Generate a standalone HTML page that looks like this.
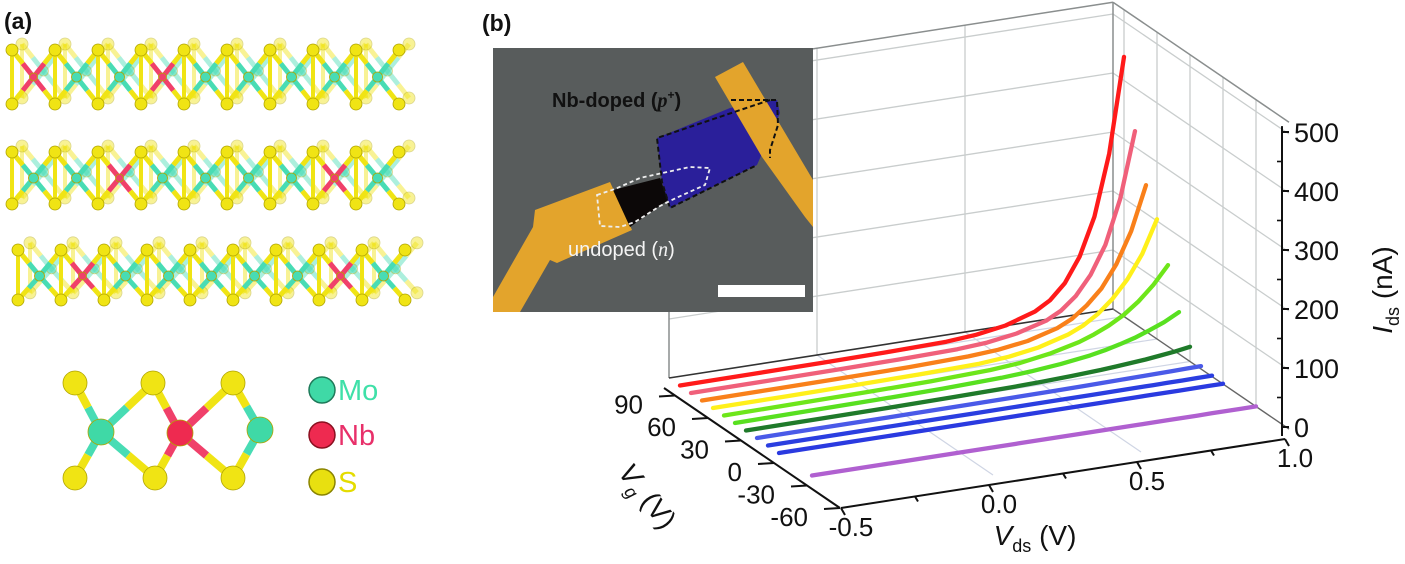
<!DOCTYPE html>
<html><head><meta charset="utf-8">
<style>
html,body{margin:0;padding:0;background:#fff;}
svg{display:block;font-family:"Liberation Sans",sans-serif;}
</style></head>
<body>
<svg id="fig" width="1405" height="564" viewBox="0 0 1405 564" xmlns="http://www.w3.org/2000/svg">
<rect width="1405" height="564" fill="#fff"/>
<g id="panelA"></g>
<text x="4" y="29" font-size="23" font-weight="bold" fill="#111">(a)</text>
<g id="mol"></g>
<g>
 <circle cx="322" cy="390" r="13" fill="#3fd9a6" stroke="#1f7a5a" stroke-width="1.5"/>
 <text x="338" y="400" font-size="29" fill="#3fe0a8">Mo</text>
 <circle cx="322" cy="435" r="13" fill="#ee2a50" stroke="#8a1020" stroke-width="1.5"/>
 <text x="338" y="445" font-size="29" fill="#e8306a">Nb</text>
 <circle cx="322" cy="482" r="13" fill="#e8e010" stroke="#8a8400" stroke-width="1.5"/>
 <text x="338" y="492" font-size="29" fill="#e4dc00">S</text>
</g>
<text x="482" y="31" font-size="23" font-weight="bold" fill="#111">(b)</text>
<g id="grid"></g>
<g id="curves"></g>
<g id="inset">
 <rect x="493" y="48" width="320" height="264" fill="#585c5c"/>
 <polygon points="657,138 730,108 777,100 780,113 757,165 670,208 662,182" fill="#2a1f9a"/>
 <polygon points="493,297 533,227 535,210 610,182 632,230 557,263 550,260 520,312 493,312" fill="#e3a42c"/>
 <polygon points="715,77 743,62 813,180 813,227 805,217 762,157" fill="#e3a42c"/>
 <polygon points="613,190 660,178 668,200 630,227" fill="#0c0808"/>
 <polyline points="770,100 657,138 662,182 670,208 757,165" fill="none" stroke="#111" stroke-width="2" stroke-dasharray="5,3"/>
 <polyline points="731,100 777,100 778,125 770,150 770,158" fill="none" stroke="#111" stroke-width="2" stroke-dasharray="5,3"/>
 <polygon points="597,195 615,189 640,178 690,167 710,168 705,185 676,198 660,206 635,222 620,227 600,226" fill="none" stroke="#eee" stroke-width="1.8" stroke-dasharray="4,3"/>
 <text x="552" y="107" font-size="20" font-weight="bold" fill="#111">Nb-doped (<tspan font-style="italic" font-family="Liberation Serif">p</tspan><tspan font-size="12" dy="-8">+</tspan><tspan dy="8">)</tspan></text>
 <text x="568" y="256" font-size="20" fill="#f4f4f4">undoped (<tspan font-style="italic" font-family="Liberation Serif">n</tspan>)</text>
 <rect x="718" y="285" width="87" height="12" fill="#fff"/>
</g>
<g id="axes"></g>
<text x="0" y="0" font-size="28" fill="#111" transform="translate(640,502) rotate(52)" text-anchor="middle"><tspan font-style="italic">V</tspan><tspan font-size="18" dy="7" font-style="italic">g</tspan><tspan dy="-7"> (V)</tspan></text>
<text x="1035" y="545" font-size="28" fill="#111" text-anchor="middle"><tspan font-style="italic">V</tspan><tspan font-size="18" dy="7">ds</tspan><tspan dy="-7"> (V)</tspan></text>
<text x="0" y="0" font-size="28" fill="#111" transform="translate(1392,290) rotate(-90)" text-anchor="middle"><tspan font-style="italic">I</tspan><tspan font-size="18" dy="7">ds</tspan><tspan dy="-7"> (nA)</tspan></text>
</svg>
<script>
// ---- chart data ----
const vdsPoints = [-0.5,-0.25,0,0.2,0.4,0.5,0.6,0.7,0.75,0.8,0.85,0.9,0.95,1.0];
const vgValues = [90,80,70,60,50,40,30,20,10,0,-30];
const seriesColors = ['#ff1a1a','#f0607a','#f9801a','#fff01a','#6ee61a','#58e020','#1f7a2a','#4a5ae8','#2a3ee0','#2a3ae0','#b060d0'];
const idsVg90 = [0,0.5,1,2,4,8,16,32,47,72,113,177,280,440];
const idsVg80 = [0,0.5,1,2,4,7.5,15,29,42,63,95,142,216,327];
const idsVg70 = [0,0.5,1,2,4.5,8,15,29,41,60,85,122,174,248];
const idsVg60 = [0,0.5,1.5,2.5,5,9,17,31,42,58,80,109,148,203];
const idsVg50 = [0,1,2,3.5,7,11,19,31,40,51,65,84,108,138];
const idsVg40 = [0,1,2,3.5,6.5,9.5,14,21,26,32,39,48,58,71];
const idsVg30 = [0,0.5,1,2,3.4,4.7,6.6,9.2,11,13,15,18,21,25];
const idsVg20 = [0,0.2,0.4,0.7,1.2,1.6,2,2.6,3,3.3,3.7,4.1,4.5,5];
const idsVg10 = [0,0,0.1,0.2,0.3,0.4,0.5,0.7,0.8,0.9,1,1.1,1.3,1.5];
const idsVg0 = [0,0,0,0.1,0.1,0.2,0.2,0.3,0.3,0.3,0.4,0.4,0.5,0.5];
const idsVgm30 = [0,0,0,0,0,0,0,0,0,0,0.1,0.1,0.1,0.1];
const allSeries = [idsVg90,idsVg80,idsVg70,idsVg60,idsVg50,idsVg40,idsVg30,idsVg20,idsVg10,idsVg0,idsVgm30];
const vdsTicks = [-0.5,0.0,0.5,1.0];
const vdsTickLabels = ['-0.5','0.0','0.5','1.0'];
const vgTicks = [90,60,30,0,-30,-60];
const vgTickLabels = ['90','60','30','0','-30','-60'];
const idsTicks = [0,100,200,300,400,500];
const idsTickLabels = ['0','100','200','300','400','500'];

const NS='http://www.w3.org/2000/svg';
const VDS_MIN=-0.5, VDS_MAX=1.0, VG_MIN=-60, VG_MAX=100, I_MAX=520;
function M(vds,vg,i){
  const u=vds-VDS_MIN, g=vg-VG_MIN;
  return [845+u*296-g*1.1, 498-u*46-g*0.75-i*0.59];
}
function mk(tag,attrs,parent){
  const e=document.createElementNS(NS,tag);
  for(const k in attrs) e.setAttribute(k,attrs[k]);
  parent.appendChild(e); return e;
}
function line(a,b,stroke,w,parent,name){
  const e=mk('line',{x1:a[0],y1:a[1],x2:b[0],y2:b[1],stroke:stroke,'stroke-width':w},parent);
  
  
  return e;
}
// ---- grid ----
const grid=document.getElementById('grid');
const gc='#c9cdcd', fc='#cfd5e4';
[0,0.5].forEach(v=>{ line(M(v,VG_MIN,0),M(v,VG_MAX,0),fc,1.2,grid,'floor-gridline-vds'); });
vgTicks.slice(0,5).forEach(v=>{ line(M(VDS_MIN,v,0),M(VDS_MAX,v,0),fc,1.2,grid,'floor-gridline-vg'); });
[0,0.5].forEach(v=>{ line(M(v,VG_MAX,0),M(v,VG_MAX,I_MAX),gc,1.3,grid,'back-wall-gridline-vds'); });
idsTicks.slice(1).forEach(i=>{ line(M(VDS_MIN,VG_MAX,i),M(VDS_MAX,VG_MAX,i),gc,1.3,grid,'back-wall-gridline-ids'); });
vgTicks.slice(0,5).forEach(v=>{ line(M(VDS_MAX,v,0),M(VDS_MAX,v,I_MAX),gc,1.3,grid,'side-wall-gridline-vg'); });
idsTicks.slice(1).forEach(i=>{ line(M(VDS_MAX,VG_MAX,i),M(VDS_MAX,VG_MIN,i),gc,1.3,grid,'side-wall-gridline-ids'); });
const bc='#8a8e8e';
line(M(VDS_MIN,VG_MAX,0),M(VDS_MIN,VG_MAX,I_MAX),bc,1.5,grid,'box-edge-back-left');
line(M(VDS_MAX,VG_MAX,0),M(VDS_MAX,VG_MAX,I_MAX),bc,1.5,grid,'box-edge-back-right');
line(M(VDS_MIN,VG_MAX,I_MAX),M(VDS_MAX,VG_MAX,I_MAX),bc,1.5,grid,'box-edge-top-back');
line(M(VDS_MAX,VG_MAX,I_MAX),M(VDS_MAX,VG_MIN,I_MAX),bc,1.5,grid,'box-edge-top-side');
line(M(VDS_MIN,VG_MAX,0),M(VDS_MAX,VG_MAX,0),'#333',1.6,grid,'box-edge-floor-back');
line(M(VDS_MAX,VG_MAX,0),M(VDS_MAX,VG_MIN,0),'#666',1.4,grid,'box-edge-floor-side');
// ---- curves ----
const cg=document.getElementById('curves');
allSeries.forEach((s,si)=>{
  const pts=vdsPoints.map((v,k)=>M(v,vgValues[si],s[k]).map(n=>n.toFixed(1)).join(','));
  const p=mk('polyline',{points:pts.join(' '),fill:'none',stroke:seriesColors[si],'stroke-width':4.3,'stroke-linecap':'round','stroke-linejoin':'round'},cg);
  
  
});
// ---- axes ----
const ax=document.getElementById('axes');
function off(p,dx,dy){return [p[0]+dx,p[1]+dy];}
const vgA=off(M(VDS_MIN,VG_MAX,0),-5,10), vgB=off(M(VDS_MIN,VG_MIN,0),-5,10);
line(vgA,vgB,'#111',2,ax,'vg-axis-line');
vgTicks.forEach((v,k)=>{
  const p=off(M(VDS_MIN,v,0),-5,10);
  line(p,[p[0]-16,p[1]+1],'#111',2,ax,'vg-tick');
  const t=mk('text',{x:p[0]-32,y:p[1]+18,'font-size':26,fill:'#111','text-anchor':'end'},ax);
  t.textContent=vgTickLabels[k];
  
  
});
const vdA=off(M(VDS_MIN,VG_MIN,0),-4,10), vdB=off(M(VDS_MAX,VG_MIN,0),-4,10);
line(vdA,vdB,'#111',2,ax,'vds-axis-line');
[-0.25,0.25,0.75].forEach(v=>{const p=off(M(v,VG_MIN,0),-4,10); line(p,[p[0]+3,p[1]+5],'#111',2,ax,'vds-minor-tick');});
vdsTicks.forEach((v,k)=>{
  const p=off(M(v,VG_MIN,0),-4,10);
  line(p,[p[0]+4,p[1]+7],'#111',2,ax,'vds-tick');
  const t=mk('text',{x:p[0]+10,y:p[1]+28,'font-size':26,fill:'#111','text-anchor':'middle'},ax);
  t.textContent=vdsTickLabels[k];
  
  
});
const iA=off(M(VDS_MAX,VG_MIN,0),-7,-2);
const iTop=off(M(VDS_MAX,VG_MIN,510),-7,-2);
line([iA[0],iA[1]+9],iTop,'#111',2,ax,'ids-axis-line');
idsTicks.forEach((v,k)=>{
  const p=off(M(VDS_MAX,VG_MIN,v),-7,-2);
  line(p,[p[0]+7,p[1]],'#111',2,ax,'ids-tick');
  if(k<idsTicks.length-1){const q=off(M(VDS_MAX,VG_MIN,v+50),-7,-2); line(q,[q[0]-5,q[1]],'#111',1.6,ax,'ids-minor-tick');}
  const t=mk('text',{x:p[0]+12,y:p[1]+10,'font-size':27,fill:'#111'},ax);
  t.textContent=idsTickLabels[k];
  
  
});
// ---- panel (a) crystal layers ----
const pa=document.getElementById('panelA');
const TEAL='#48dcb4', YEL='#f0e414', RED='#f0406a';
function bond(a,b,ca,cb,w,op,parent){
  const m=[(a[0]+b[0])/2,(a[1]+b[1])/2];
  const l1=mk('line',{x1:a[0],y1:a[1],x2:m[0],y2:m[1],stroke:ca,'stroke-width':w,opacity:op},parent);
  
  
  const l2=mk('line',{x1:m[0],y1:m[1],x2:b[0],y2:b[1],stroke:cb,'stroke-width':w,opacity:op},parent);
  
  
}
function atom(p,r,fill,op,parent){
  const c=mk('circle',{cx:p[0],cy:p[1],r:r,fill:fill,stroke:'#b0a400','stroke-width':0.8,opacity:op},parent);
  
  
}
function layer(x0,x1,yt,yb,ym,P,nbXs,shift){
  [[shift,-shift*0.6,0.45],[0,0,1]].forEach(([dx,dy,op])=>{
    for(let x=x0;x<=x1-P;x+=P){
      const st=[x+dx,yt+dy], sb=[x+dx,yb+dy], st2=[x+P+dx,yt+dy], sb2=[x+P+dx,yb+dy], mo=[x+P/2+dx,ym+dy];
      const isNb = op===1 && nbXs.some(n=>Math.abs(n-mo[0])<P/2);
      const mc=isNb?RED:TEAL;
      bond(st,sb,YEL,YEL,4,op,pa);
      bond(mo,st,mc,YEL,5,op,pa);bond(mo,sb,mc,YEL,5,op,pa);
      bond(mo,st2,mc,YEL,5,op,pa);bond(mo,sb2,mc,YEL,5,op,pa);
      atom(st,6,YEL,op,pa);atom(sb,6,YEL,op,pa);
      atom(mo,isNb?4:5,mc,op,pa);
    }
    atom([x0+Math.floor((x1-x0)/P)*P+dx,yt+dy],6,YEL,op,pa);
    atom([x0+Math.floor((x1-x0)/P)*P+dx,yb+dy],6,YEL,op,pa);
  });
}
layer(12,420,50,104,77,43,[25,160],10);
layer(12,420,152,204,178,43,[130,355],10);
layer(18,412,250,300,276,43,[65,340],12);
// ---- unit cell diagram ----
const mol=document.getElementById('mol');
const Sa=[[75,383],[153,383],[233,383],[75,478],[155,478],[233,478]];
const Mo1=[101,432], Nb=[180,433], Mo2=[260,430];
[0,1,3,4].forEach(k=>bond(Mo1,Sa[k],TEAL,YEL,8,1,mol));
[1,2,4,5].forEach(k=>bond(Nb,Sa[k],RED,YEL,8,1,mol));
[2,5].forEach(k=>bond(Mo2,Sa[k],TEAL,YEL,8,1,mol));
Sa.forEach(p=>atom(p,12,YEL,1,mol));
atom(Mo1,13,'#3fd9a6',1,mol);atom(Nb,13,'#ee2a50',1,mol);atom(Mo2,13,'#3fd9a6',1,mol);
</script>
</body></html>
